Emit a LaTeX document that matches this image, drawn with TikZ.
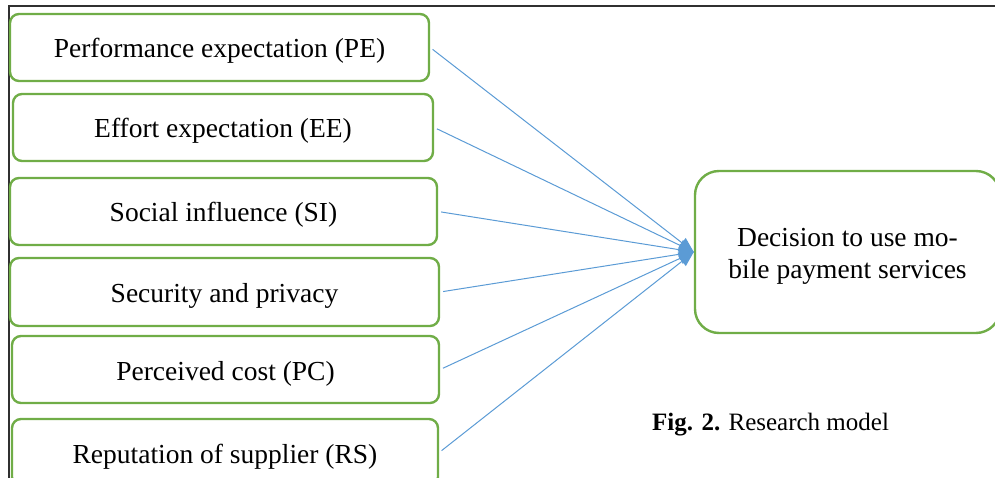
\documentclass[tikz,border=0pt]{standalone}
\usepackage{fontspec}
\setmainfont{Liberation Serif}
\usetikzlibrary{arrows.meta}
\definecolor{boxgreen}{HTML}{70AD47}
\definecolor{arrowblue}{HTML}{5B9BD5}
\definecolor{framegray}{HTML}{303030}
\begin{document}
\begin{tikzpicture}[x=1pt,y=-1pt,
  inbox/.style={draw=boxgreen,line width=2.4pt,rounded corners=9pt,fill=white,
    inner sep=0pt,font=\fontsize{27.5}{32}\selectfont,align=center},
  oneline/.style={text height=22pt,text depth=1pt},
  link/.style={draw=arrowblue,line width=1pt,shorten <=3pt,
    -{Triangle[length=15pt,width=12pt]}}]
\useasboundingbox (0,0) rectangle (995,478);
\begin{scope}
\clip (0,0) rectangle (995,478);
\draw[framegray,line width=1.3pt] (9,480) -- (9,6) -- (1000,6);
\node[inbox,oneline,minimum width=419pt,minimum height=67pt] (pe) at (219.5,47.5) {Performance expectation (PE)};
\node[inbox,oneline,minimum width=420pt,minimum height=67pt] (ee) at (223,127.5) {Effort expectation (EE)};
\node[inbox,oneline,minimum width=427pt,minimum height=67pt] (si) at (223.5,211.5) {Social influence (SI)};
\node[inbox,oneline,minimum width=429pt,minimum height=68pt] (sp) at (224.5,292) {Security and privacy};
\node[inbox,oneline,minimum width=427pt,minimum height=67pt] (pc) at (225.5,369.5) {Perceived cost (PC)};
\node[inbox,oneline,minimum width=426pt,minimum height=67pt] (rs) at (225,452.5) {Reputation of supplier (RS)};
\node[inbox,rounded corners=24pt,minimum width=305pt,minimum height=162pt] (dec) at (847.5,252) {\rule{0pt}{27pt}Decision to use mo-\\bile payment services};
\foreach \n in {pe,ee,si,sp,pc,rs} {\draw[link] (\n.east) -- (dec.west);}
\node[anchor=base west,inner sep=0pt,font=\fontsize{25}{30}\selectfont] (cap) at (652,430) {\textbf{Fig. 2.} Research model};
\end{scope}
\end{tikzpicture}
\end{document}
